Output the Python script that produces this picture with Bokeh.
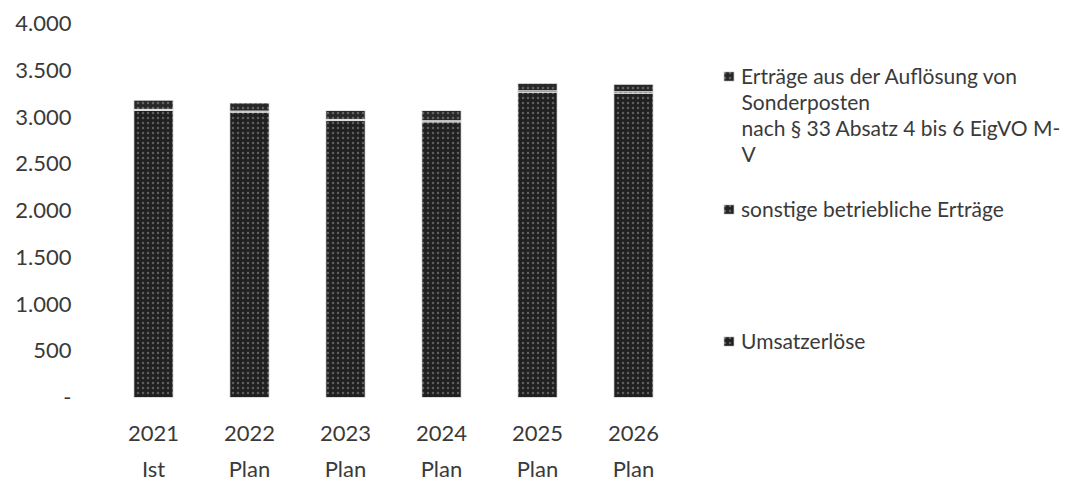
from bokeh.plotting import figure
from bokeh.models import (FixedTicker, Legend, LegendItem, ColumnDataSource,
                          LinearAxis, Label)
from bokeh.embed import file_html
from bokeh.resources import INLINE

# ---- data ----
years = ["2021", "2022", "2023", "2024", "2025", "2026"]
kinds = ["Ist", "Plan", "Plan", "Plan", "Plan", "Plan"]
umsatz = [3070, 3052, 2962, 2948, 3265, 3255]
sonstige = [12, 12, 12, 12, 15, 15]
aufloesung = [98, 86, 96, 110, 80, 80]
series_labels = [
    "Umsatzerlöse",
    "sonstige betriebliche Erträge",
    "Erträge aus der Auflösung von",
]
label_continuation = "Sonderposten\nnach § 33 Absatz 4 bis 6 EigVO M-\nV"
y_ticks = [0, 500, 1000, 1500, 2000, 2500, 3000, 3500, 4000]
y_tick_labels = ["-", "500", "1.000", "1.500", "2.000", "2.500", "3.000", "3.500", "4.000"]

FONT = "Lato"
TXT = "#3a3a3a"
FS = "22px"
LFS = "21px"
FILLS = ["#202020", "#242424", "#282828"]
BAR_STYLE = dict(line_color="white", line_width=0.8, hatch_pattern=".",
                 hatch_color="white", hatch_alpha=0.28, hatch_scale=5,
                 hatch_weight=1)

xpos = list(range(len(years)))
src = ColumnDataSource(dict(x=xpos, u=umsatz, s=sonstige, a=aufloesung))

# one category = 96 px; frame spans the chart and the legend area on its right
p = figure(x_range=(-0.5, -0.5 + 964 / 96), y_range=(0, 4000),
           frame_width=964, frame_height=374,
           min_border_left=105, min_border_right=0, min_border_top=23,
           min_border_bottom=87, output_backend="svg", toolbar_location=None)

renderers = p.vbar_stack(["u", "s", "a"], x="x", width=0.41, source=src,
                         fill_color=FILLS, **BAR_STYLE)

p.xgrid.visible = False
p.ygrid.visible = False
p.outline_line_color = None

# y axis
p.yaxis.ticker = FixedTicker(ticks=y_ticks)
p.yaxis.major_label_overrides = {t: l for t, l in zip(y_ticks, y_tick_labels)}
p.yaxis.axis_line_color = None
p.yaxis.major_tick_line_color = None
p.yaxis.minor_tick_line_color = None
p.yaxis.major_label_standoff = 28
p.yaxis.major_label_text_font = FONT
p.yaxis.major_label_text_font_size = FS
p.yaxis.major_label_text_color = TXT


def style_x(ax, labels, standoff):
    ax.ticker = FixedTicker(ticks=xpos)
    ax.major_label_overrides = {i: l for i, l in zip(xpos, labels)}
    ax.axis_line_color = None
    ax.major_tick_line_color = None
    ax.minor_tick_line_color = None
    ax.major_label_standoff = standoff
    ax.major_label_text_font = FONT
    ax.major_label_text_font_size = FS
    ax.major_label_text_color = TXT


style_x(p.xaxis[0], years, 22)
ax2 = LinearAxis()
style_x(ax2, kinds, 5)
p.add_layout(ax2, "below")

# legends (one per item, positioned like the original)
positions = [(617, 44), (617, 176), (617, 309)]
for r, lab, pos in zip(renderers, series_labels, positions):
    leg = Legend(items=[LegendItem(label=lab, renderers=[r])], location=pos,
                 padding=0, margin=0, border_line_color=None,
                 background_fill_alpha=0, glyph_width=13, glyph_height=12,
                 label_standoff=6, label_text_font=FONT,
                 label_text_font_size=LFS, label_text_color=TXT,
                 label_text_line_height=1.2)
    p.add_layout(leg)

# wrapped continuation of the first legend entry
p.add_layout(Label(x=636, y=309, x_units="screen", y_units="screen",
                   text=label_continuation, text_align="left",
                   text_baseline="top", text_font=FONT, text_font_size=LFS,
                   text_color=TXT, text_line_height=1.04))

open("out.html", "w").write(file_html(p, INLINE))
